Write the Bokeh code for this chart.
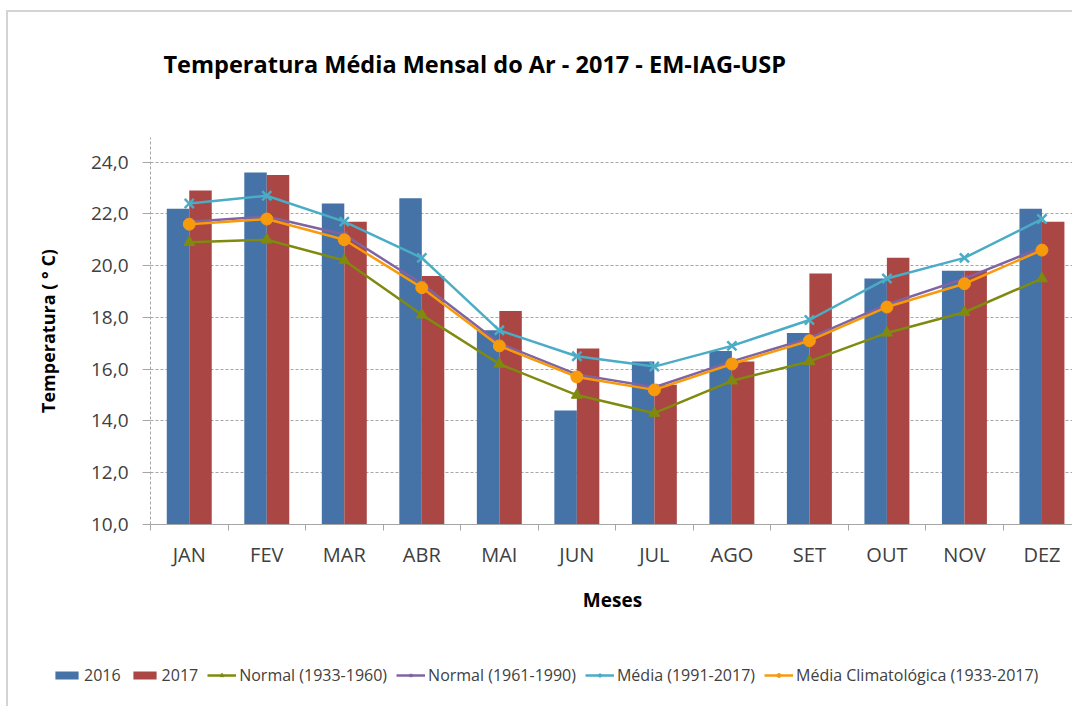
from bokeh.plotting import figure
from bokeh.models import Range1d, FixedTicker, Legend, LegendItem, ColumnDataSource, Title
from bokeh.transform import dodge
from bokeh.embed import file_html
from bokeh.resources import INLINE

months = ["JAN", "FEV", "MAR", "ABR", "MAI", "JUN", "JUL", "AGO", "SET", "OUT", "NOV", "DEZ"]
t2016 = [22.2, 23.6, 22.4, 22.6, 17.5, 14.4, 16.3, 16.7, 17.4, 19.5, 19.8, 22.2]
t2017 = [22.9, 23.5, 21.7, 19.6, 18.25, 16.8, 15.4, 16.3, 19.7, 20.3, 19.8, 21.7]
normal_1933_1960 = [20.9, 21.0, 20.2, 18.1, 16.2, 15.0, 14.3, 15.55, 16.3, 17.4, 18.2, 19.5]
normal_1961_1990 = [21.7, 21.9, 21.2, 19.3, 17.0, 15.8, 15.3, 16.3, 17.2, 18.5, 19.5, 20.7]
media_1991_2017 = [22.4, 22.7, 21.7, 20.3, 17.5, 16.5, 16.1, 16.9, 17.9, 19.5, 20.3, 21.8]
media_climat = [21.6, 21.8, 21.0, 19.15, 16.9, 15.7, 15.2, 16.2, 17.1, 18.4, 19.3, 20.6]
y_ticks = [10, 12, 14, 16, 18, 20, 22, 24]
series_labels = ["2016", "2017", "Normal (1933-1960)", "Normal (1961-1990)",
                 "Média (1991-2017)", "Média Climatológica (1933-2017)"]

x_idx = list(range(1, len(months) + 1))
src = ColumnDataSource(dict(x=x_idx, t2016=t2016, t2017=t2017, n1=normal_1933_1960,
                            n2=normal_1961_1990, m=media_1991_2017, mc=media_climat))

FONT = "Open Sans"
BLUE, RED, OLIVE, PURPLE, CYAN, ORANGE = "#4572a7", "#aa4643", "#7f8a0f", "#8064a2", "#4bacc6", "#f79a0c"

p = figure(width=1066, height=640, x_range=Range1d(0.5, 12.42), y_range=Range1d(10, 24.95),
           output_backend="svg", toolbar_location=None,
           min_border_left=142, min_border_right=0, min_border_top=125, min_border_bottom=128)
p.outline_line_color = None
p.styles = {"margin-left": "6px", "margin-top": "10px",
            "border-top": "2px solid #d4d4d4", "border-left": "2px solid #d4d4d4"}

# spacer between the title and the plot area, then the title itself
p.add_layout(Title(text=" ", text_font=FONT, text_font_size="30px"), "above")
p.add_layout(Title(text="Temperatura Média Mensal do Ar -  2017 - EM-IAG-USP", text_font=FONT,
                   text_font_size="23.5px", text_font_style="bold", text_color="#000000",
                   offset=13), "above")


def draw(fig):
    r = {}
    r["b1"] = fig.vbar(x=dodge("x", -0.145, range=fig.x_range), top="t2016", bottom=10, width=0.29,
                       source=src, fill_color=BLUE, line_color=None)
    r["b2"] = fig.vbar(x=dodge("x", 0.145, range=fig.x_range), top="t2017", bottom=10, width=0.29,
                       source=src, fill_color=RED, line_color=None)
    r["l1"] = fig.line("x", "n1", source=src, line_color=OLIVE, line_width=2.5)
    r["s1"] = fig.scatter("x", "n1", source=src, marker="triangle", size=11,
                          fill_color=OLIVE, line_color=OLIVE)
    r["l2"] = fig.line("x", "n2", source=src, line_color=PURPLE, line_width=2.5)
    r["s2"] = fig.scatter("x", "n2", source=src, marker="x", size=9, line_color=PURPLE, line_width=1.5)
    r["l3"] = fig.line("x", "m", source=src, line_color=CYAN, line_width=2.5)
    r["s3"] = fig.scatter("x", "m", source=src, marker="x", size=13, line_color=CYAN, line_width=2.5)
    r["l4"] = fig.line("x", "mc", source=src, line_color=ORANGE, line_width=2.5)
    r["s4"] = fig.scatter("x", "mc", source=src, marker="circle", size=12,
                          fill_color=ORANGE, line_color=ORANGE)
    return r


draw(p)

# grid
p.xgrid.visible = False
p.ygrid.ticker = FixedTicker(ticks=y_ticks[1:])
p.ygrid.grid_line_color = "#a6a6a6"
p.ygrid.grid_line_dash = "3 2"
p.ygrid.grid_line_width = 1

# y axis
ya = p.yaxis[0]
ya.ticker = FixedTicker(ticks=y_ticks)
ya.major_label_overrides = {v: f"{v:.1f}".replace(".", ",") for v in y_ticks}
ya.minor_tick_line_color = None
ya.major_tick_out = 8
ya.major_tick_in = 0
ya.major_tick_line_color = "#a6a6a6"
ya.axis_line_color = "#a6a6a6"
ya.axis_line_dash = "3 2"
ya.major_label_text_font = FONT
ya.major_label_text_font_size = "19px"
ya.major_label_text_color = "#404040"
ya.major_label_standoff = 14
ya.axis_label = "Temperatura ( ° C)"
ya.axis_label_text_font = FONT
ya.axis_label_text_font_size = "18px"
ya.axis_label_text_font_style = "bold"
ya.axis_label_text_color = "#000000"
ya.axis_label_standoff = 28

# x axis
xa = p.xaxis[0]
xa.ticker = FixedTicker(ticks=x_idx, minor_ticks=[i + 0.5 for i in range(0, len(months) + 1)])
xa.major_label_overrides = {i: m for i, m in zip(x_idx, months)}
xa.major_tick_out = 0
xa.major_tick_in = 0
xa.minor_tick_out = 6
xa.minor_tick_in = 0
xa.minor_tick_line_color = "#a6a6a6"
xa.axis_line_color = "#a6a6a6"
xa.major_label_text_font = FONT
xa.major_label_text_font_size = "20px"
xa.major_label_text_color = "#404040"
xa.major_label_standoff = 10
xa.axis_label = "Meses"
xa.axis_label_text_font = FONT
xa.axis_label_text_font_size = "19px"
xa.axis_label_text_font_style = "bold"
xa.axis_label_text_color = "#000000"
xa.axis_label_standoff = 16

# legend strip: same series and styles, ranges set away from the data so only the legend shows
leg_fig = figure(width=1066, height=56, x_range=Range1d(-20, -19), y_range=Range1d(-20, -19),
                 output_backend="svg", toolbar_location=None,
                 min_border_left=0, min_border_right=0, min_border_top=0, min_border_bottom=0)
leg_fig.axis.visible = False
leg_fig.grid.visible = False
leg_fig.outline_line_color = None
leg_fig.styles = {"margin-left": "6px", "border-left": "2px solid #d4d4d4"}
lr = draw(leg_fig)

legend = Legend(items=[
    LegendItem(label=series_labels[0], renderers=[lr["b1"]]),
    LegendItem(label=series_labels[1], renderers=[lr["b2"]]),
    LegendItem(label=series_labels[2], renderers=[lr["l1"], lr["s1"]]),
    LegendItem(label=series_labels[3], renderers=[lr["l2"], lr["s2"]]),
    LegendItem(label=series_labels[4], renderers=[lr["l3"], lr["s3"]]),
    LegendItem(label=series_labels[5], renderers=[lr["l4"], lr["s4"]]),
], orientation="horizontal", location=(44, 20))
legend.label_text_font = FONT
legend.label_text_font_size = "16px"
legend.label_text_color = "#404040"
legend.glyph_width = 29
legend.glyph_height = 10
legend.label_standoff = 3
legend.spacing = 9
legend.padding = 0
legend.margin = 0
legend.border_line_color = None
legend.background_fill_alpha = 0
leg_fig.add_layout(legend, "center")

open("out.html", "w").write(file_html([p, leg_fig], INLINE))
